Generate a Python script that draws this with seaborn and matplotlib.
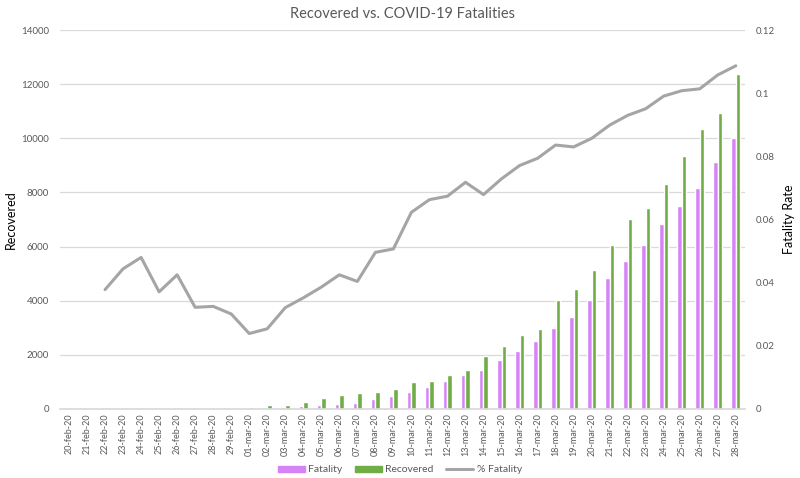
import numpy as np
import pandas as pd
import matplotlib
matplotlib.use("Agg")
import matplotlib.pyplot as plt
from matplotlib.patches import Patch
from matplotlib.lines import Line2D
from matplotlib.ticker import FixedLocator, FuncFormatter
import seaborn as sns

# categories: daily dates 20-feb-20 .. 28-mar-20
dates = [d.strftime("%d-%b-%y").lower() for d in pd.date_range("2020-02-20", "2020-03-28")]

fatality = [0, 1, 2, 3, 7, 10, 12, 17, 21, 29,
            34, 52, 79, 107, 148, 197, 233, 366, 463, 631,
            827, 1016, 1266, 1441, 1809, 2158, 2503, 2978, 3405, 4032,
            4825, 5476, 6077, 6820, 7503, 8165, 9134, 10023]
recovered = [0, 0, 1, 2, 1, 1, 3, 45, 46, 46,
             83, 149, 160, 276, 414, 523, 589, 622, 724, 1004,
             1045, 1258, 1439, 1966, 2335, 2749, 2941, 4025, 4440, 5129,
             6072, 7024, 7432, 8326, 9362, 10361, 10950, 12384]
pct_fatality = [np.nan, np.nan, 0.0378, 0.0444, 0.0480, 0.0371, 0.0425, 0.0322, 0.0325, 0.0301,
                0.0239, 0.0254, 0.0321, 0.0352, 0.0386, 0.0425, 0.0404, 0.0496, 0.0507, 0.0623,
                0.0663, 0.0674, 0.0718, 0.0679, 0.0729, 0.0771, 0.0794, 0.0836, 0.0830, 0.0857,
                0.0899, 0.0930, 0.0951, 0.0991, 0.1008, 0.1014, 0.1058, 0.1087]

pink = "#D683F7"
green = "#70AD47"
gray = "#A5A5A5"
txt = "#595959"

sns.set_theme(style="white")
plt.rcParams["font.family"] = ["Lato", "DejaVu Sans"]

n = len(dates)
bars = pd.DataFrame({
    "Date": dates * 2,
    "Count": fatality + recovered,
    "Series": ["Fatality"] * n + ["Recovered"] * n,
})

fig = plt.figure(figsize=(8, 4.78), dpi=100)
ax = fig.add_axes([0.075, 0.1444, 0.856, 0.7926])

sns.barplot(bars, x="Date", y="Count", hue="Series", palette=[pink, green],
            width=0.5, gap=0, ax=ax, legend=False, saturation=1)

ax2 = ax.twinx()
sns.lineplot(x=np.arange(n), y=pct_fatality, ax=ax2, color=gray, lw=2.2)

ax.set_xlim(-0.5, n - 0.5)
ax.set_ylim(0, 14000)
ax.set_yticks(range(0, 14001, 2000))
ax2.set_ylim(0, 0.12)
ax2.set_yticks([0, 0.02, 0.04, 0.06, 0.08, 0.1, 0.12])
ax2.yaxis.set_major_formatter(FuncFormatter(lambda v, p: f"{v:g}"))

ax.yaxis.grid(True, color="#D9D9D9", lw=0.9)
ax.set_axisbelow(True)
for a in (ax, ax2):
    for s in ("top", "left", "right", "bottom"):
        a.spines[s].set_visible(False)
ax.spines["bottom"].set_visible(True)
ax.spines["bottom"].set_color("#D9D9D9")

ax.tick_params(axis="x", length=0, labelsize=6.5, labelcolor=txt, rotation=90, pad=3)
ax.xaxis.set_minor_locator(FixedLocator(np.arange(-0.5, n, 1)))
ax.tick_params(axis="x", which="minor", length=4, color="#D9D9D9", direction="out")
ax.tick_params(axis="y", length=0, labelsize=7, labelcolor=txt, pad=8)
ax2.tick_params(axis="y", length=0, labelsize=7, labelcolor=txt, pad=8)

ax.set_xlabel("")
ax.set_ylabel("Recovered", fontsize=9, color="black", labelpad=3)
ax2.set_ylabel("Fatality Rate", fontsize=9, color="black", labelpad=6)
ax.set_title("Recovered vs. COVID-19 Fatalities", fontsize=10.5, color=txt, pad=9)

handles = [Patch(color=pink), Patch(color=green), Line2D([], [], color=gray, lw=2.2)]
fig.legend(handles, ["Fatality", "Recovered", "% Fatality"], loc="lower center",
           bbox_to_anchor=(0.5, -0.012), ncol=3, frameon=False, fontsize=7.5,
           labelcolor=txt, handlelength=2.6, handleheight=0.55, columnspacing=1.2,
           handletextpad=0.3)

fig.savefig("out.png", dpi=100)
